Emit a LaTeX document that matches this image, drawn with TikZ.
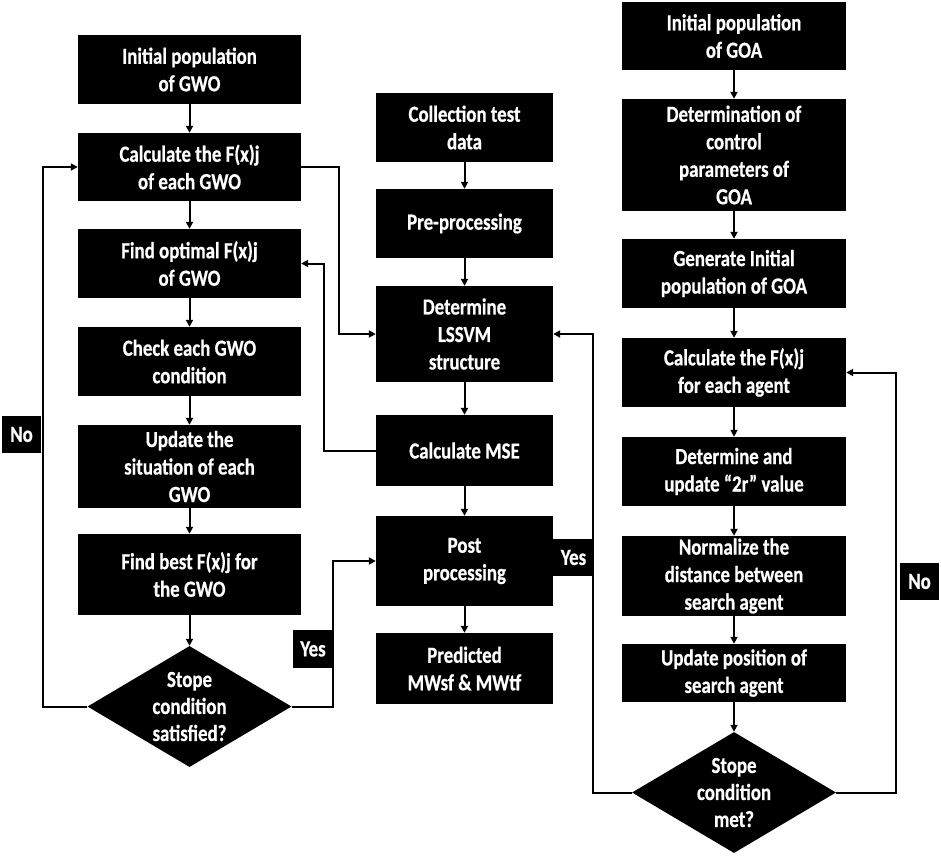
\documentclass[tikz,border=0pt]{standalone}
\usepackage{fontspec}
\setmainfont{Carlito}[FakeStretch=0.82,BoldFeatures={FakeBold=0.6}]
\usetikzlibrary{shapes.geometric,arrows.meta}
\begin{document}
\begin{tikzpicture}[x=1pt,y=-1pt,
  box/.style={fill=black,text=white,inner sep=0pt,align=center,
    font=\bfseries\fontsize{23}{27.5}\selectfont},
  dia/.style={diamond,fill=black,inner sep=0pt,minimum width=204pt,minimum height=121pt,aspect=1.686},
  dtext/.style={text=white,align=center,inner sep=0pt,font=\bfseries\fontsize{23}{27}\selectfont},
  tag/.style={box,minimum height=37pt},
  arr/.style={line width=2pt,-{Triangle[length=7pt,width=7pt]}},
  ln/.style={line width=2pt}]
\useasboundingbox (0,0) rectangle (941,855);
% left column
\node[box,minimum width=223pt,minimum height=69pt] (L1) at (189.5,69.5) {Initial population\\of GWO};
\node[box,minimum width=223pt,minimum height=68pt] (L2) at (189.5,167) {Calculate the F(x)j\\of each GWO};
\node[box,minimum width=223pt,minimum height=69pt] (L3) at (189.5,263.5) {Find optimal F(x)j\\of GWO};
\node[box,minimum width=223pt,minimum height=69pt] (L4) at (189.5,361.5) {Check each GWO\\condition};
\node[box,minimum width=223pt,minimum height=83pt] (L5) at (189.5,466.5) {Update the\\situation of each\\GWO};
\node[box,minimum width=223pt,minimum height=81pt] (L6) at (189.5,574.5) {Find best F(x)j for\\the GWO};
\node[dia] (LD) at (189.5,706.5) {};
\node[dtext] (LDt) at (LD.center) {Stope\\condition\\satisfied?};
% middle column
\node[box,minimum width=177pt,minimum height=69pt] (M1) at (464.5,127.5) {Collection test\\data};
\node[box,minimum width=177pt,minimum height=69pt] (M2) at (464.5,223.5) {Pre-processing};
\node[box,minimum width=177pt,minimum height=96pt] (M3) at (464.5,334) {Determine\\LSSVM\\structure};
\node[box,minimum width=177pt,minimum height=71pt] (M4) at (464.5,450.5) {Calculate MSE};
\node[box,minimum width=177pt,minimum height=90pt] (M5) at (464.5,561) {Post\\processing};
\node[box,minimum width=177pt,minimum height=71pt] (M6) at (464.5,668.5) {Predicted\\MWsf \& MWtf};
% right column
\node[box,minimum width=224pt,minimum height=68pt] (R1) at (734,36) {Initial population\\of GOA};
\node[box,minimum width=224pt,minimum height=112pt] (R2) at (734,155) {Determination of\\control\\parameters of\\GOA};
\node[box,minimum width=224pt,minimum height=69pt] (R3) at (734,273.5) {Generate Initial\\population of GOA};
\node[box,minimum width=224pt,minimum height=69pt] (R4) at (734,372.5) {Calculate the F(x)j\\for each agent};
\node[box,minimum width=224pt,minimum height=69pt] (R5) at (734,471.5) {Determine and\\update “2r” value};
\node[box,minimum width=224pt,minimum height=80pt] (R6) at (734,576) {Normalize the\\distance between\\search agent};
\node[box,minimum width=224pt,minimum height=58pt] (R7) at (734,673) {Update position of\\search agent};
\node[dia] (RD) at (734,792.5) {};
\node[dtext] (RDt) at (RD.center) {Stope\\condition\\met?};
% tags
\node[tag,minimum width=39pt] (noL) at (21.5,434.5) {No};
\node[tag,minimum width=40pt,minimum height=38pt] (yesL) at (313,649) {Yes};
\node[tag,minimum width=41pt] (yesM) at (573.5,557.5) {Yes};
\node[tag,minimum width=39pt] (noR) at (919.5,581.5) {No};
% coordinates for loops
\coordinate (cNL) at (43,706.5);
\coordinate (cYL) at (333,706.5);
\coordinate (cL2) at (339,167);
\coordinate (cM4) at (324,450.5);
\coordinate (cNR) at (896,792.5);
\coordinate (cYR) at (593,792.5);
% vertical arrows
\foreach \a/\b in {L1/L2,L2/L3,L3/L4,L4/L5,L5/L6,L6/LD,M1/M2,M2/M3,M3/M4,M4/M5,M5/M6,R1/R2,R2/R3,R3/R4,R4/R5,R5/R6,R6/R7,R7/RD}
  \draw[arr] (\a.south) -- (\b.north);
% loops
\draw[arr] (LD.west) -- (cNL) |- (L2.west);
\draw[arr] (LD.east) -- (cYL) |- (M5.west);
\draw[arr] (L2.east) -- (cL2) |- (M3.west);
\draw[arr] (M4.west) -- (cM4) |- (L3.east);
\draw[arr] (RD.east) -- (cNR) |- (R4.east);
\draw[arr] (RD.west) -- (cYR) |- (M3.east);
\end{tikzpicture}
\end{document}
